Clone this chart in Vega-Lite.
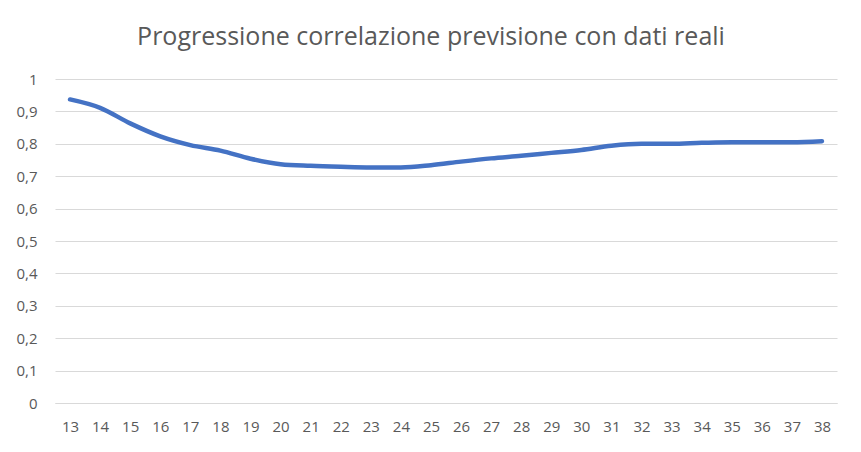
{
  "$schema": "https://vega.github.io/schema/vega-lite/v6.json",
  "autosize": "none",
  "width": 782,
  "height": 324,
  "padding": {"left": 55, "top": 79, "right": 24, "bottom": 49},
  "background": "white",
  "title": {
    "text": "Progressione correlazione previsione con dati reali",
    "anchor": "middle",
    "frame": "group",
    "font": "Open Sans",
    "fontSize": 25,
    "fontWeight": "normal",
    "color": "#595959",
    "offset": 22,
    "dx": -15
  },
  "data": {
    "values": [
      {"x": "13", "v": 0.937},
      {"x": "14", "v": 0.911},
      {"x": "15", "v": 0.863},
      {"x": "16", "v": 0.823},
      {"x": "17", "v": 0.796},
      {"x": "18", "v": 0.779},
      {"x": "19", "v": 0.754},
      {"x": "20", "v": 0.737},
      {"x": "21", "v": 0.732},
      {"x": "22", "v": 0.729},
      {"x": "23", "v": 0.727},
      {"x": "24", "v": 0.727},
      {"x": "25", "v": 0.734},
      {"x": "26", "v": 0.745},
      {"x": "27", "v": 0.755},
      {"x": "28", "v": 0.763},
      {"x": "29", "v": 0.772},
      {"x": "30", "v": 0.781},
      {"x": "31", "v": 0.794},
      {"x": "32", "v": 0.8},
      {"x": "33", "v": 0.8},
      {"x": "34", "v": 0.803},
      {"x": "35", "v": 0.805},
      {"x": "36", "v": 0.805},
      {"x": "37", "v": 0.805},
      {"x": "38", "v": 0.808}
    ]
  },
  "mark": {"type": "line", "color": "#4472C4", "strokeWidth": 4.5, "interpolate": "monotone", "strokeCap": "round", "strokeJoin": "round"},
  "encoding": {
    "x": {
      "field": "x",
      "type": "ordinal",
      "sort": null,
      "scale": {"type": "point", "padding": 0.5},
      "axis": {
        "title": null,
        "labelAngle": 0,
        "ticks": false,
        "grid": false,
        "domainColor": "#d9d9d9",
        "domainWidth": 1,
        "labelPadding": 23,
        "labelBaseline": "middle",
        "labelOverlap": false,
        "labelFont": "Open Sans",
        "labelFontSize": 15,
        "labelColor": "#595959"
      }
    },
    "y": {
      "field": "v",
      "type": "quantitative",
      "scale": {"domain": [0, 1], "nice": false, "zero": true},
      "axis": {
        "title": null,
        "values": [0, 0.1, 0.2, 0.3, 0.4, 0.5, 0.6, 0.7, 0.8, 0.9, 1],
        "labelExpr": "replace(format(datum.value, '.1~f'), '.', ',')",
        "labelOverlap": false,
        "domain": false,
        "ticks": false,
        "grid": true,
        "gridColor": "#d9d9d9",
        "gridWidth": 1,
        "labelPadding": 18,
        "labelFont": "Open Sans",
        "labelFontSize": 15,
        "labelColor": "#595959"
      }
    }
  },
  "config": {
    "view": {"stroke": null}
  }
}
